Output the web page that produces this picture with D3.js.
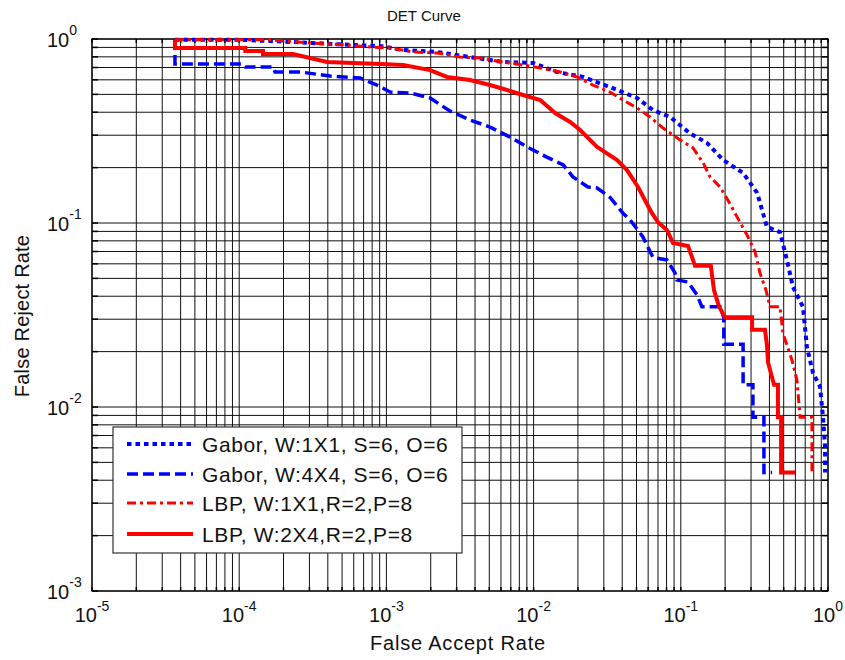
<!DOCTYPE html>
<html>
<head>
<meta charset="utf-8">
<script src="https://cdn.jsdelivr.net/npm/d3@7"></script>
<style>
  body { margin: 0; background: #fff; }
  text { font-family: "Liberation Sans", Arial, sans-serif; fill: #111; }
</style>
</head>
<body>
<svg id="det" width="845" height="660"></svg>
<script>
// values (FAR on x, FRR on y)
const farGabor11 = [3.66e-5, 1.01e-4, 2.32e-4, 4.34e-4, 9.05e-4, 1.30e-3, 2.21e-3, 3.70e-3, 6.19e-3, 9.90e-3,
  1.44e-2, 2.17e-2, 3.30e-2, 5.04e-2, 6.47e-2, 8.45e-2, 0.115, 0.151, 0.194, 0.265,
  0.330, 0.385, 0.472, 0.526, 0.578, 0.676, 0.719, 0.791, 0.883, 0.925, 0.955, 0.955];
const frrGabor11 = [0.99, 0.99, 0.963, 0.939, 0.916, 0.871, 0.850, 0.798, 0.750, 0.741,
  0.662, 0.622, 0.548, 0.478, 0.411, 0.377, 0.308, 0.272, 0.220, 0.187,
  0.146, 0.0951, 0.0893, 0.0629, 0.0449, 0.0350, 0.0212, 0.0153, 0.0129, 0.0088, 0.0061, 0.0044];

const farGabor44 = [3.66e-5, 3.66e-5, 1.06e-4, 1.10e-4, 1.70e-4, 1.75e-4, 2.59e-4, 4.14e-4, 6.62e-4, 8.63e-4,
  1.06e-3, 1.45e-3, 1.98e-3, 2.70e-3, 3.70e-3, 5.06e-3, 6.92e-3, 9.02e-3, 1.23e-2, 1.59e-2,
  1.85e-2, 2.34e-2, 2.70e-2, 3.30e-2, 4.05e-2, 4.52e-2, 5.53e-2, 6.47e-2, 8.05e-2, 9.14e-2,
  9.42e-2, 0.112, 0.129, 0.139, 0.185, 0.196, 0.196, 0.265, 0.265, 0.309, 0.309, 0.367, 0.367, 0.417];
const frrGabor44 = [1.0, 0.731, 0.731, 0.705, 0.705, 0.662, 0.662, 0.629, 0.614, 0.562,
  0.515, 0.509, 0.478, 0.406, 0.363, 0.332, 0.293, 0.259, 0.228, 0.207,
  0.178, 0.157, 0.155, 0.138, 0.113, 0.104, 0.084, 0.065, 0.063, 0.0535,
  0.049, 0.0478, 0.0406, 0.0351, 0.0351, 0.0307, 0.0219, 0.0219, 0.0132, 0.0132, 0.0088, 0.0088, 0.0044, 0.0044];

const farLbp11 = [3.66e-5, 1.62e-4, 3.03e-4, 5.40e-4, 7.74e-4, 1.06e-3, 1.52e-3, 2.21e-3, 3.16e-3, 4.32e-3,
  6.19e-3, 8.47e-3, 1.11e-2, 1.51e-2, 1.97e-2, 2.53e-2, 3.30e-2, 4.05e-2, 5.04e-2, 6.18e-2,
  7.57e-2, 9.88e-2, 0.121, 0.142, 0.158, 0.185, 0.209, 0.241, 0.282, 0.319,
  0.345, 0.379, 0.404, 0.472, 0.494, 0.569, 0.615, 0.646, 0.778, 0.778];
const frrLbp11 = [0.99, 0.99, 0.951, 0.928, 0.905, 0.894, 0.850, 0.839, 0.798, 0.788,
  0.750, 0.722, 0.696, 0.662, 0.622, 0.562, 0.515, 0.466, 0.422, 0.377,
  0.328, 0.283, 0.256, 0.212, 0.178, 0.157, 0.133, 0.108, 0.086, 0.070,
  0.0535, 0.0432, 0.0351, 0.0351, 0.0252, 0.0180, 0.0140, 0.0088, 0.0088, 0.0044];

const farLbp24 = [3.66e-5, 3.66e-5, 1.10e-4, 1.10e-4, 1.45e-4, 1.45e-4, 2.32e-4, 3.95e-4, 9.05e-4, 1.30e-3,
  1.98e-3, 2.58e-3, 3.70e-3, 5.06e-3, 6.59e-3, 8.47e-3, 1.11e-2, 1.40e-2, 1.77e-2, 2.07e-2,
  2.70e-2, 3.69e-2, 4.31e-2, 5.12e-2, 5.71e-2, 6.37e-2, 7.00e-2, 8.05e-2, 8.85e-2, 0.112,
  0.125, 0.160, 0.168, 0.182, 0.200, 0.305, 0.305, 0.373, 0.385, 0.391,
  0.430, 0.457, 0.457, 0.480, 0.480, 0.597];
const frrLbp24 = [0.99, 0.894, 0.894, 0.860, 0.860, 0.829, 0.829, 0.750, 0.731, 0.722,
  0.678, 0.622, 0.599, 0.562, 0.528, 0.496, 0.466, 0.396, 0.354, 0.320,
  0.259, 0.220, 0.194, 0.157, 0.133, 0.113, 0.101, 0.0916, 0.0778, 0.0750,
  0.0585, 0.0585, 0.0432, 0.0351, 0.0307, 0.0307, 0.0263, 0.0263, 0.0217, 0.0175,
  0.0132, 0.0132, 0.0088, 0.0088, 0.0044, 0.0044];

const seriesNames = ["Gabor, W:1X1, S=6, O=6", "Gabor, W:4X4, S=6, O=6", "LBP, W:1X1,R=2,P=8", "LBP, W:2X4,R=2,P=8"];
const xExponents = [-5, -4, -3, -2, -1, 0];
const yExponents = [-3, -2, -1, 0];

const svg = d3.select("#det");
const pLeft = 92, pRight = 828, pTop = 39, pBottom = 591;

const x = d3.scaleLog().domain([1e-5, 1]).range([pLeft, pRight]);
const y = d3.scaleLog().domain([1e-3, 1]).range([pBottom, pTop]);

svg.append("rect").attr("width", 845).attr("height", 660).attr("fill", "#fff");
svg.append("rect").attr("x", pLeft).attr("y", pTop)
  .attr("width", pRight - pLeft).attr("height", pBottom - pTop).attr("fill", "#fff");

// grid at every decade and minor tick
const grid = svg.append("g").attr("stroke", "#111").attr("stroke-width", 1);
grid.selectAll("line.gx").data(x.ticks()).join("line").attr("class", "gx")
  .attr("x1", d => x(d)).attr("x2", d => x(d)).attr("y1", pTop).attr("y2", pBottom);
grid.selectAll("line.gy").data(y.ticks()).join("line").attr("class", "gy")
  .attr("y1", d => y(d)).attr("y2", d => y(d)).attr("x1", pLeft).attr("x2", pRight);

// inward tick marks on all sides
const ticks = svg.append("g").attr("stroke", "#000").attr("stroke-width", 1.5);
x.ticks().forEach(v => {
  ticks.append("line").attr("x1", x(v)).attr("x2", x(v)).attr("y1", pBottom).attr("y2", pBottom - 4);
  ticks.append("line").attr("x1", x(v)).attr("x2", x(v)).attr("y1", pTop).attr("y2", pTop + 4);
});
y.ticks().forEach(v => {
  ticks.append("line").attr("y1", y(v)).attr("y2", y(v)).attr("x1", pLeft).attr("x2", pLeft + 6);
  ticks.append("line").attr("y1", y(v)).attr("y2", y(v)).attr("x1", pRight).attr("x2", pRight - 6);
});

svg.append("rect").attr("x", pLeft).attr("y", pTop)
  .attr("width", pRight - pLeft).attr("height", pBottom - pTop)
  .attr("fill", "none").attr("stroke", "#000").attr("stroke-width", 1.2);

// tick labels 10^n
const xl = svg.append("g").selectAll("text").data(xExponents).join("text")
  .attr("x", d => x(Math.pow(10, d))).attr("y", 622)
  .attr("text-anchor", "middle").attr("font-size", 20);
xl.append("tspan").text("10");
xl.append("tspan").attr("font-size", 14).attr("dy", -11).text(d => d);

const yl = svg.append("g").selectAll("text").data(yExponents).join("text")
  .attr("x", 47).attr("y", d => y(Math.pow(10, d)) + 8)
  .attr("font-size", 20);
yl.append("tspan").text("10");
yl.append("tspan").attr("font-size", 14).attr("dy", -12).text(d => d);

// curves
svg.append("clipPath").attr("id", "plotclip").append("rect")
  .attr("x", pLeft).attr("y", pTop - 3).attr("width", pRight - pLeft + 3).attr("height", pBottom - pTop + 3);

const styles = [
  { color: "#0000ff", width: 4, dash: "4.5,4" },
  { color: "#0000ff", width: 3.5, dash: "11,5" },
  { color: "#ff0000", width: 3, dash: "9,4,3,4" },
  { color: "#ff0000", width: 4, dash: null }
];
const series = [
  d3.zip(farGabor11, frrGabor11),
  d3.zip(farGabor44, frrGabor44),
  d3.zip(farLbp11, frrLbp11),
  d3.zip(farLbp24, frrLbp24)
];
const line = d3.line().x(d => x(d[0])).y(d => y(d[1]));

svg.append("g").attr("clip-path", "url(#plotclip)")
  .selectAll("path").data(series).join("path")
  .attr("d", line)
  .attr("fill", "none")
  .attr("stroke", (d, i) => styles[i].color)
  .attr("stroke-width", (d, i) => styles[i].width)
  .attr("stroke-dasharray", (d, i) => styles[i].dash)
  .attr("stroke-linejoin", "miter");

// legend
const lg = svg.append("g");
lg.append("rect").attr("x", 113).attr("y", 427).attr("width", 349).attr("height", 126)
  .attr("fill", "#fff").attr("stroke", "#333").attr("stroke-width", 1.2);
const rowY = [444, 474, 503, 534];
seriesNames.forEach((name, i) => {
  lg.append("line").attr("x1", 127).attr("x2", 193).attr("y1", rowY[i]).attr("y2", rowY[i])
    .attr("stroke", styles[i].color).attr("stroke-width", styles[i].width)
    .attr("stroke-dasharray", styles[i].dash);
  lg.append("text").attr("x", 202).attr("y", rowY[i] + 8)
    .attr("font-size", 21).attr("letter-spacing", 0.6).text(name);
});

// titles
svg.append("text").attr("x", 424).attr("y", 21).attr("text-anchor", "middle")
  .attr("font-size", 15).text("DET Curve");
svg.append("text").attr("x", 458).attr("y", 650).attr("text-anchor", "middle")
  .attr("font-size", 20).attr("letter-spacing", 0.8).text("False Accept Rate");
svg.append("text").attr("transform", "translate(29,316) rotate(-90)").attr("text-anchor", "middle")
  .attr("font-size", 20).attr("letter-spacing", 0.2).text("False Reject Rate");
</script>
</body>
</html>
